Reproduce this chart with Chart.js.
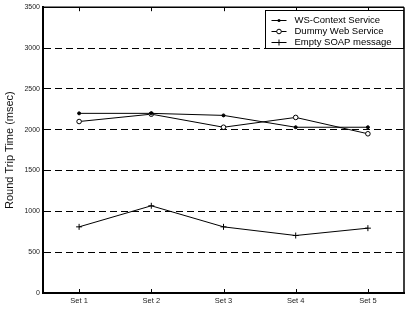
<!DOCTYPE html>
<html>
<head>
<meta charset="utf-8">
<script src="https://cdn.jsdelivr.net/npm/chart.js@4.4.0/dist/chart.umd.min.js"></script>
<style>
  html, body { margin: 0; padding: 0; background: #fff; }
  #wrap { width: 412px; height: 312px; }
</style>
</head>
<body>
<div id="wrap"><canvas id="chart" width="412" height="312"></canvas></div>
<script>
const categories = ["Set 1", "Set 2", "Set 3", "Set 4", "Set 5"];
const seriesNames = ["WS-Context Service", "Dummy Web Service", "Empty SOAP message"];
const wsContext = [2200, 2200, 2175, 2030, 2030];
const dummyService = [2100, 2190, 2030, 2150, 1950];
const emptySoap = [810, 1068, 810, 704, 794];
const markerStyles = ["dot", "circle", "cross"];

const FONT = "'Liberation Sans', Arial, sans-serif";

function drawMarker(ctx, style, x, y) {
  ctx.save();
  ctx.strokeStyle = "#000";
  ctx.fillStyle = "#000";
  ctx.lineWidth = 1;
  ctx.beginPath();
  if (style === "dot") {
    ctx.arc(x, y, 1.5, 0, Math.PI * 2);
    ctx.fill();
  } else if (style === "circle") {
    ctx.arc(x, y, 2.3, 0, Math.PI * 2);
    ctx.fillStyle = "#fff";
    ctx.fill();
    ctx.stroke();
  } else {
    ctx.moveTo(x - 3, y); ctx.lineTo(x + 3, y);
    ctx.moveTo(x, y - 3); ctx.lineTo(x, y + 3);
    ctx.stroke();
  }
  ctx.restore();
}

// frame, inward x ticks and the boxed legend inside the plot
const framePlugin = {
  id: "frame",
  afterDatasetsDraw(chart) {
    const ctx = chart.ctx;
    const a = chart.chartArea;
    const xs = chart.scales.x;
    ctx.save();
    ctx.strokeStyle = "#000";
    ctx.lineWidth = 1.5;
    ctx.beginPath();
    ctx.moveTo(a.left, a.top); ctx.lineTo(a.right, a.top);
    ctx.moveTo(a.right, a.top); ctx.lineTo(a.right, a.bottom);
    ctx.stroke();
    ctx.lineWidth = 1;
    ctx.beginPath();
    xs.ticks.forEach((t, i) => {
      const px = Math.round(xs.getPixelForTick(i)) + 0.5;
      ctx.moveTo(px, a.bottom); ctx.lineTo(px, a.bottom - 4);
      ctx.moveTo(px, a.top); ctx.lineTo(px, a.top + 4);
    });
    ctx.stroke();

    // legend
    ctx.font = "9.5px " + FONT;
    const names = chart.data.datasets.map(d => d.label);
    const tw = Math.max(...names.map(n => ctx.measureText(n).width));
    const bw = 29 + tw + 12;
    const bh = 38;
    const bx = Math.round(a.right - 1 - bw) + 0.5;
    const by = Math.round(a.top + 3) + 0.5;
    ctx.fillStyle = "#fff";
    ctx.fillRect(bx, by, bw, bh);
    ctx.lineWidth = 1;
    ctx.strokeRect(bx, by, bw, bh);
    names.forEach((n, i) => {
      const y = Math.round(by + 9 + i * 11) + 0.5;
      ctx.beginPath();
      ctx.moveTo(bx + 6, y); ctx.lineTo(bx + 21, y);
      ctx.stroke();
      drawMarker(ctx, markerStyles[i], bx + 13.5, y);
      ctx.fillStyle = "#000";
      ctx.textBaseline = "middle";
      ctx.textAlign = "left";
      ctx.fillText(n, bx + 29, y);
    });
    ctx.restore();
  }
};

const pointOpts = [
  { pointStyle: "circle", pointRadius: 1.5, pointBackgroundColor: "#000" },
  { pointStyle: "circle", pointRadius: 2.3, pointBackgroundColor: "#fff" },
  { pointStyle: "cross", pointRadius: 3, pointBackgroundColor: "#000" }
];

const seriesData = [wsContext, dummyService, emptySoap];

new Chart(document.getElementById("chart"), {
  type: "line",
  data: {
    labels: categories,
    datasets: seriesNames.map((name, i) => Object.assign({
      label: name,
      data: seriesData[i],
      borderColor: "#000",
      borderWidth: 1,
      pointBorderColor: "#000",
      pointBorderWidth: 1,
      tension: 0,
      fill: false
    }, pointOpts[i]))
  },
  options: {
    responsive: false,
    animation: false,
    layout: { padding: { top: 7, right: 8, left: 0, bottom: 0 } },
    plugins: {
      legend: { display: false },
      tooltip: { enabled: false }
    },
    scales: {
      x: {
        offset: true,
        grid: { display: false, drawTicks: false },
        border: { display: true, color: "#000", width: 2 },
        ticks: { color: "#222", font: { family: FONT, size: 7.5 }, padding: 3, maxRotation: 0 },
        afterFit(scale) { scale.height = 19; }
      },
      y: {
        min: 0,
        max: 3500,
        grid: {
          drawTicks: false,
          color: ctx => (ctx.tick.value === 0 || ctx.tick.value === 3500) ? "rgba(0,0,0,0)" : "#000",
          lineWidth: 1
        },
        border: { display: true, color: "#000", width: 2, dash: [7, 4] },
        ticks: {
          stepSize: 500,
          color: "#222",
          font: { family: FONT, size: 7 },
          padding: 3,
          callback: v => String(v)
        },
        title: {
          display: true,
          text: "Round Trip Time (msec)",
          color: "#111",
          font: { family: FONT, size: 11 },
          padding: { top: 3, bottom: 0 }
        },
        afterFit(scale) { scale.width = 43; }
      }
    }
  },
  plugins: [framePlugin]
});
</script>
</body>
</html>
